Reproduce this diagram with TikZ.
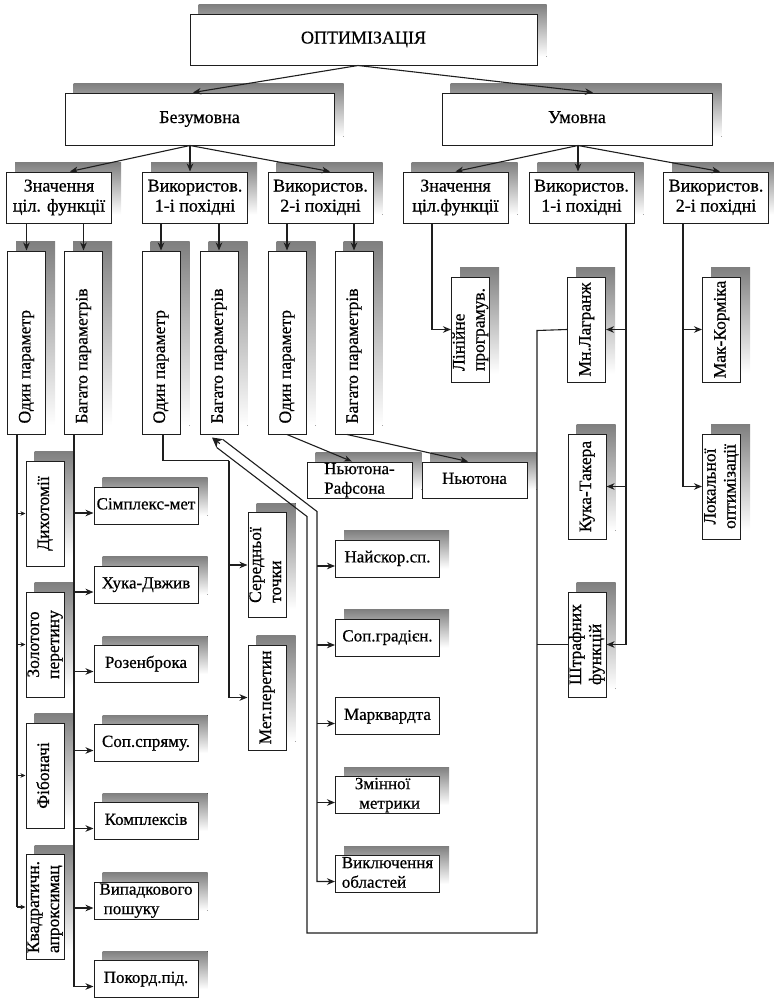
\documentclass[tikz,border=0pt]{standalone}
\usepackage{fontspec}
\setmainfont{Liberation Serif}[FakeBold=0.6]
\usepackage{graphicx}
\usetikzlibrary{arrows.meta,backgrounds,calc}
\definecolor{shade}{HTML}{6E6E6E}
\definecolor{ink}{HTML}{1E1E1E}
% centred label of zero size (lines given with \\)
\newsavebox\lblbox
\newcommand\cbox[2][c]{\sbox\lblbox{\begin{tabular}{@{}#1@{}}#2\end{tabular}}%
  \makebox[0pt]{\raisebox{\dimexpr(\dp\lblbox-\ht\lblbox)/2\relax}[0pt][0pt]{\usebox\lblbox}}}
% the same label, turned to read upwards
\newcommand\vcbox[2][c]{\makebox[0pt]{\rotatebox{90}{\cbox[#1]{#2}}}}
% upward label that starts #1 below the node centre
\newcommand\vup[2]{\makebox[0pt]{\raisebox{-#1}[0pt][0pt]{\rotatebox{90}{%
  \sbox\lblbox{#2}\makebox[0pt][l]{\raisebox{\dimexpr(\dp\lblbox-\ht\lblbox)/2\relax}[0pt][0pt]{\usebox\lblbox}}}}}}
\tikzset{
  box/.style={draw=ink, fill=white, line width=1pt, inner sep=0pt,
    font=\fontsize{17}{19.5}\selectfont},
  lvl/.style={box, minimum width=105pt, minimum height=51pt, font=\fontsize{18}{20}\selectfont},
  tall/.style={box, minimum width=38pt, minimum height=183pt, font=\fontsize{17.5}{20}\selectfont},
  vbox/.style={box, minimum width=38pt, minimum height=105pt, font=\fontsize{17.5}{20}\selectfont},
  hbox/.style={box, minimum width=104pt, minimum height=37pt},
  link/.style={draw=ink, line width=1.1pt},
  arr/.style={link, -{Stealth[length=8pt,width=6.5pt,inset=2.5pt]}},
  tick/.style={link, -{Stealth[length=5pt,width=4.5pt,inset=1.5pt]}},
}
\begin{document}
\begin{tikzpicture}[x=1pt,y=-1pt]
\useasboundingbox (0,0) rectangle (774,999);

% ---------- upper levels ----------
\node[box, minimum width=347pt, minimum height=51pt, font=\fontsize{18}{20}\selectfont] (opt) at (363.5,39.5) {\cbox{ОПТИМІЗАЦІЯ}};
\node[box, minimum width=269pt, minimum height=52pt, font=\fontsize{18}{20}\selectfont] (bez) at (199.5,119) {\cbox{Безумовна}};
\node[box, minimum width=270pt, minimum height=52pt, font=\fontsize{18}{20}\selectfont] (umov) at (577,119) {\cbox{Умовна}};

\node[lvl] (zn1) at (59,197.5)    {\cbox{Значення\\ціл. функції}};
\node[lvl] (v11) at (195,197.5)   {\cbox{Використов.\\1-і похідні}};
\node[lvl] (v21) at (320.5,197.5) {\cbox{Використов.\\2-і похідні}};
\node[lvl] (zn2) at (455.5,197.5) {\cbox{Значення\\ціл.функції}};
\node[lvl] (v12) at (581.5,197.5) {\cbox{Використов.\\1-і похідні}};
\node[lvl] (v22) at (716,197.5)   {\cbox{Використов.\\2-і похідні}};

% ---------- one / many parameters ----------
\node[tall] (od1) at (26.5,342.5) {\vup{81pt}{Один параметр}};
\node[tall] (bg1) at (83.5,342.5) {\vup{81pt}{Багато параметрів}};
\node[tall] (od2) at (161,342.5)  {\vup{81pt}{Один параметр}};
\node[tall] (bg2) at (219,342.5)  {\vup{81pt}{Багато параметрів}};
\node[tall] (od3) at (287,342.5)  {\vup{81pt}{Один параметр}};
\node[tall] (bg3) at (354,342.5)  {\vup{81pt}{Багато параметрів}};

% ---------- constrained methods ----------
\node[vbox] (lin)  at (470.5,329.5) {\vcbox[l]{Лінійне\\програмув.}};
\node[vbox] (lag)  at (586.5,329.5) {\vcbox{Мн.Лагранж}};
\node[vbox] (mak)  at (721.5,329.5) {\vcbox{Мак-Корміка}};
\node[vbox] (kuk)  at (587,486.5)   {\vcbox{Кука-Такера}};
\node[vbox] (lok)  at (721.5,486.5) {\vcbox{Локальної\\оптимізації}};
\node[vbox] (shtr) at (587,644.5)   {\vcbox[l]{Штрафних\\функцій}};

% ---------- one-dimensional search ----------
\node[vbox] (dyx) at (45,513.5) {\vcbox{Дихотомії}};
\node[vbox] (zol) at (45,644.5) {\vcbox{Золотого\\перетину}};
\node[vbox] (fib) at (45,775.5) {\vcbox{Фібоначі}};
\node[vbox] (kva) at (45,907)   {\vcbox[l]{Квадратичн.\\апроксимац}};

% ---------- direct multi-parameter search ----------
\node[hbox] (sim) at (146,505.5) {\cbox{Сімплекс-мет}};
\node[hbox] (xuk) at (146,584.5) {\cbox{Хука-Двжив}};
\node[hbox] (roz) at (146,664)   {\cbox{Розенброка}};
\node[hbox] (sop) at (146,743)   {\cbox{Соп.спряму.}};
\node[hbox] (kom) at (146,821)   {\cbox{Комплексів}};
\node[hbox] (vyp) at (146,900.5) {\cbox[l]{Випадкового\\\ пошуку}};
\node[hbox] (pok) at (146,979)   {\cbox{Покорд.під.}};

% ---------- first-derivative methods ----------
\node[vbox] (ser) at (267,565)   {\vcbox[l]{Середньої\\точки}};
\node[vbox] (met) at (267,697.5) {\vcbox{Мет.перетин}};

\node[hbox] (nai) at (387.5,558.5) {\cbox{Найскор.сп.}};
\node[hbox] (sgr) at (387.5,637.5) {\cbox{Соп.градієн.}};
\node[hbox] (mar) at (387.5,716)   {\cbox{Марквардта}};
\node[hbox] (zmi) at (387.5,795)   {\cbox[l]{Змінної\\\ метрики}};
\node[hbox] (vyk) at (387.5,874)   {\cbox[l]{Виключення\\областей}};

% ---------- second-derivative methods ----------
\node[hbox, minimum width=105pt, minimum height=36pt] (nr) at (359.5,480) {\cbox[l]{Ньютона-\\Рафсона}};
\node[hbox, minimum width=105pt, minimum height=36pt] (nt) at (474.5,480) {\cbox{Ньютона}};

% ---------- shadows ----------
\begin{scope}[on background layer]
\foreach \n in {opt,bez,umov,zn1,v11,v21,zn2,v12,v22,od1,bg1,od2,bg2,od3,bg3,
  lin,lag,mak,kuk,lok,shtr,dyx,zol,fib,kva,sim,xuk,roz,sop,kom,vyp,pok,
  ser,met,nai,sgr,zmi,vyk,nr,nt}
  \fill[shade] ([shift={(9pt,9pt)}]\n.south west) rectangle ([shift={(9pt,9pt)}]\n.north east);
\end{scope}

% ---------- connectors: top ----------
\draw[arr] ([xshift=-5.5pt]opt.south) -- ([xshift=-6.5pt]bez.north);
\draw[arr] ([xshift=-5.5pt]opt.south) -- ([xshift=16pt]umov.north);

\coordinate (bj) at ([xshift=-9.5pt]bez.south);
\draw[arr] (bj) -- ([xshift=11pt]zn1.north);
\draw[arr] (bj) -- (bj |- v11.north);
\draw[arr] (bj) -- ([xshift=9.5pt]v21.north);

\coordinate (uj) at ([xshift=1pt]umov.south);
\draw[arr] (uj) -- (zn2.north);
\draw[arr] (uj) -- (uj |- v12.north);
\draw[arr] (uj) -- ([xshift=4pt]v22.north);

\foreach \a/\b in {zn1/od1, zn1/bg1, v11/od2, v11/bg2, v21/od3, v21/bg3}
  \draw[arr] (\b.north |- \a.south) -- (\b.north);

% ---------- connectors: one-dimensional search ----------
\coordinate (b1) at ([xshift=-9.5pt]od1.south);
\draw[link] (b1) -- (b1 |- kva.west);
\foreach \n in {dyx,zol,fib,kva}
  \draw[tick] (b1 |- \n.west) -- (\n.west);

% ---------- connectors: direct search ----------
\foreach \n in {sim,xuk,roz,sop,kom,vyp,pok,nai,sgr,mar,zmi,vyk}
  \coordinate (\n-in) at ([yshift=-7.5pt]\n.west);
\coordinate (b2) at ([xshift=-9.5pt]bg1.south);
\draw[arr] (b2) |- (pok-in);
\foreach \n in {sim,xuk,roz,sop,kom,vyp}
  \draw[arr] (b2 |- \n-in) -- (\n-in);

% ---------- connectors: first derivatives, one parameter ----------
\coordinate (k1) at ([xshift=68pt,yshift=-26pt]od2.south);
\draw[link] ([xshift=2pt]od2.south) |- (k1);
\draw[arr] (k1) |- (met.west);
\draw[arr] (k1 |- ser.west) -- (ser.west);

% ---------- connectors: Newton ----------
\draw[arr] (od3.south) -- ([xshift=-7.5pt]nr.north);
\draw[arr] ([xshift=-7pt]bg3.south) -- ([xshift=-6.5pt]nt.north);

% ---------- connectors: constrained ----------
\coordinate (r1) at ([xshift=-23.5pt]zn2.south);
\draw[arr] (r1) |- (lin.west);
\coordinate (r2) at ([xshift=44.5pt]v12.south);
\draw[link] (r2) -- (r2 |- shtr.east);
\foreach \n in {lag,kuk,shtr}
  \draw[arr] (r2 |- \n.east) -- (\n.east);
\coordinate (r3) at ([xshift=-33pt]v22.south);
\draw[link] (r3) -- (r3 |- lok.west);
\foreach \n in {mak,lok}
  \draw[arr] (r3 |- \n.west) -- (\n.west);

% ---------- double line to the many-parameter block ----------
\coordinate (tip) at ([xshift=-7pt,yshift=-3pt]bg2.south);
\coordinate (lA) at ($(tip)+(4.9,10.1)$);
\coordinate (lB) at ($(tip)+(95,79)$);
\coordinate (rA) at ($(tip)+(11,2.1)$);
\coordinate (rB) at ($(tip)+(105,74)$);
\coordinate (lD) at ([xshift=-30pt,yshift=-1pt]lag.west);
\draw[link] (lA) -- (lB) -- (lB |- 0,933) -| (lD) -- (lag.west);
\draw[link] (lD |- shtr.west) -- (shtr.west);
\draw[arr] (rA) -- (rB) |- (vyk-in);
\foreach \n in {nai,sgr,mar,zmi}
  \draw[arr] (rB |- \n-in) -- (\n-in);
\draw[link, -{Stealth[length=10pt,width=11pt,inset=3pt]}] ($(tip)+(7.9,6.1)$) -- (tip);
\end{tikzpicture}
\end{document}
